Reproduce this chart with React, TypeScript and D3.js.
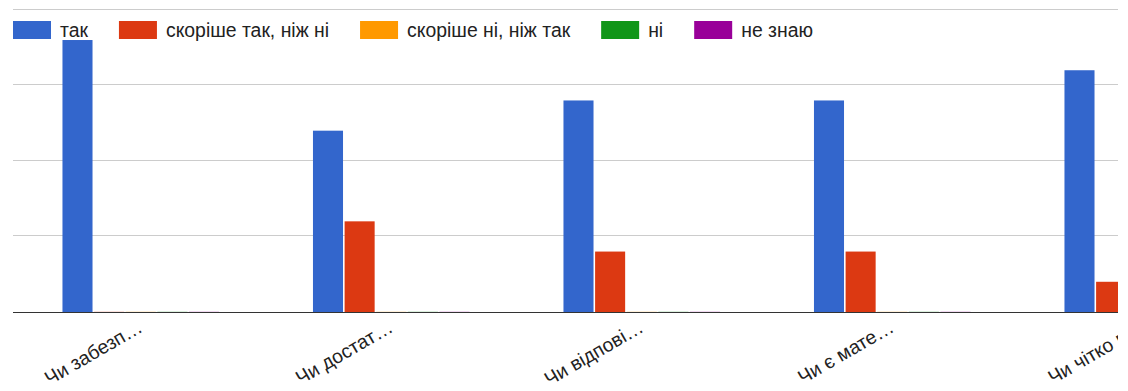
import React, { useEffect, useRef } from "react";
import * as d3 from "d3";

const categories = ["Чи забезп…", "Чи достат…", "Чи відпові…", "Чи є мате…", "Чи чітко п…"];
const seriesNames = ["так", "скоріше так, ніж ні", "скоріше ні, ніж так", "ні", "не знаю"];
const seriesColors = ["#3366cc", "#dc3912", "#ff9900", "#109618", "#990099"];
const valuesTak = [18, 12, 14, 14, 16];
const valuesRatherYes = [0, 6, 4, 4, 2];
const valuesRatherNo = [0, 0, 0, 0, 0];
const valuesNo = [0, 0, 0, 0, 0];
const valuesDontKnow = [0, 0, 0, 0, 0];
const yTicks = [0, 5, 10, 15, 20];

const allSeries = [valuesTak, valuesRatherYes, valuesRatherNo, valuesNo, valuesDontKnow];

const W = 1128;
const H = 391;
const FONT = "Arial, 'Liberation Sans', sans-serif";
const FS = 19.4;

export default function App() {
  const ref = useRef<SVGSVGElement>(null);

  useEffect(() => {
    const svg = d3.select(ref.current);
    svg.selectAll("*").remove();

    const left = 13;
    const clipRight = 1118;
    const step = 250.5;
    const baseY = 312;
    const topY = 9.8;

    const x0 = d3
      .scaleBand<string>()
      .domain(categories)
      .range([left + 2.5, left + 2.5 + step * categories.length])
      .paddingInner(0.375)
      .paddingOuter(0.1875);
    const x1 = d3
      .scaleBand<string>()
      .domain(seriesNames)
      .range([0, x0.bandwidth()])
      .paddingInner(0.05);
    const y = d3.scaleLinear().domain([0, 20]).range([baseY, topY]);

    svg
      .append("defs")
      .append("clipPath")
      .attr("id", "plotclip")
      .append("rect")
      .attr("x", 0)
      .attr("y", 0)
      .attr("width", clipRight)
      .attr("height", H);

    const g = svg.append("g").attr("clip-path", "url(#plotclip)");

    // gridlines
    g.selectAll("line.grid")
      .data(yTicks.filter((t) => t !== 0))
      .enter()
      .append("line")
      .attr("x1", left)
      .attr("x2", clipRight)
      .attr("y1", (d) => Math.round(y(d)) - 0.5)
      .attr("y2", (d) => Math.round(y(d)) - 0.5)
      .attr("stroke", "#cccccc")
      .attr("stroke-width", 1);

    // bars
    const groups = g
      .selectAll("g.cat")
      .data(categories)
      .enter()
      .append("g")
      .attr("transform", (c) => `translate(${x0(c)},0)`);

    groups
      .selectAll("rect")
      .data((c, ci) => seriesNames.map((s, si) => ({ s, si, v: allSeries[si][ci] })))
      .enter()
      .append("rect")
      .attr("x", (d) => x1(d.s)!)
      .attr("width", x1.bandwidth())
      .attr("y", (d) => (d.v === 0 ? y(0) - 1 : y(d.v)))
      .attr("height", (d) => (d.v === 0 ? 1 : y(0) - y(d.v)))
      .attr("fill", (d) => seriesColors[d.si])
      .attr("fill-opacity", (d) => (d.v === 0 ? 0.15 : 1));

    // axis baseline
    g.append("line")
      .attr("x1", left)
      .attr("x2", clipRight)
      .attr("y1", baseY + 0.5)
      .attr("y2", baseY + 0.5)
      .attr("stroke", "#333333")
      .attr("stroke-width", 1);

    // x labels
    g.selectAll("text.xl")
      .data(categories)
      .enter()
      .append("text")
      .attr("transform", (c) => `translate(${x0(c)! + x0.bandwidth() / 2 + 3},${baseY + 19}) rotate(-30)`)
      .attr("text-anchor", "end")
      .attr("font-family", FONT)
      .attr("font-size", FS)
      .attr("fill", "#222222")
      .text((c) => c);

    // legend
    const legend = svg.append("g");
    let cx = left;
    seriesNames.forEach((name, i) => {
      legend
        .append("rect")
        .attr("x", cx)
        .attr("y", 21)
        .attr("width", 38)
        .attr("height", 18)
        .attr("fill", seriesColors[i]);
      const t = legend
        .append("text")
        .attr("x", cx + 47)
        .attr("y", 36.5)
        .attr("font-family", FONT)
        .attr("font-size", FS)
        .attr("fill", "#222222")
        .text(name);
      const w = (t.node() as SVGTextElement).getComputedTextLength();
      cx = cx + 47 + w + 31;
    });
  }, []);

  return (
    <svg
      ref={ref}
      width={W}
      height={H}
      style={{ position: "absolute", left: 0, top: 0, background: "#ffffff" }}
    />
  );
}
